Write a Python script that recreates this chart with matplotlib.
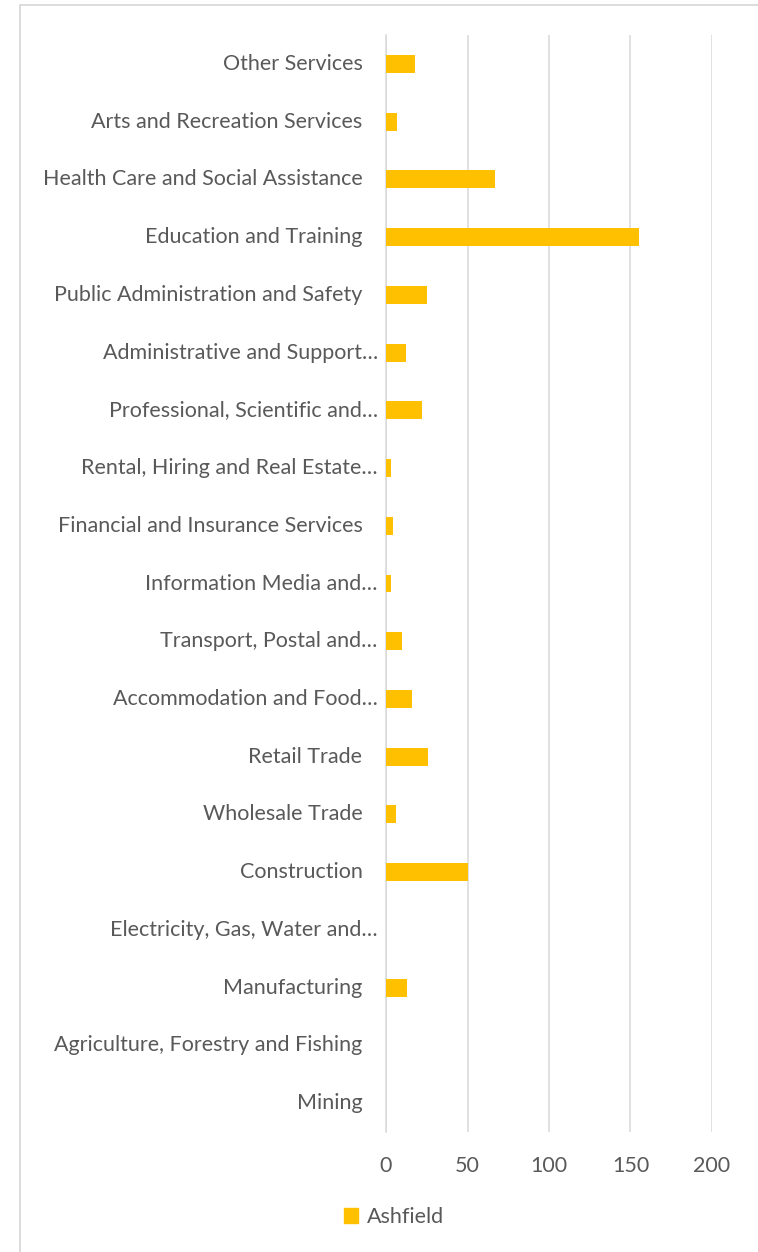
import matplotlib.pyplot as plt
from matplotlib.patches import Rectangle
import matplotlib.transforms as mtransforms

plt.rcParams['font.family'] = ['Lato', 'DejaVu Sans']

# categories listed from top to bottom as in the chart
categories = [
    "Other Services",
    "Arts and Recreation Services",
    "Health Care and Social Assistance",
    "Education and Training",
    "Public Administration and Safety",
    "Administrative and Support\u2026",
    "Professional, Scientific and\u2026",
    "Rental, Hiring and Real Estate\u2026",
    "Financial and Insurance Services",
    "Information Media and\u2026",
    "Transport, Postal and\u2026",
    "Accommodation and Food\u2026",
    "Retail Trade",
    "Wholesale Trade",
    "Construction",
    "Electricity, Gas, Water and\u2026",
    "Manufacturing",
    "Agriculture, Forestry and Fishing",
    "Mining",
]
ashfield = [18, 7, 67, 155, 25, 12, 22, 3, 4, 3, 10, 16, 26, 6, 50, 0, 13, 0, 0]
xticks = [0, 50, 100, 150, 200]

W, H = 758, 1252
fs = 15.5
text_col = '#595959'
grid_col = '#D9D9D9'
bar_col = '#FFC000'

fig = plt.figure(figsize=(W / 100, H / 100), dpi=100)

# chart area border
fig.patches.append(Rectangle((20 / W, -0.01), 1.0, 1 - 5 / H + 0.01,
                             transform=fig.transFigure, fill=False,
                             edgecolor=grid_col, linewidth=1.3))

ax = fig.add_axes([386 / W, 1 - 1132 / H, (712 - 386) / W, (1132 - 35) / H])
ypos = list(range(len(categories)))
ax.barh(ypos, ashfield, height=0.31, color=bar_col, zorder=3)
ax.set_ylim(len(categories) - 0.5, -0.5)
ax.set_xlim(0, 200)
ax.set_xticks(xticks)
ax.set_xticklabels([str(t) for t in xticks])
ax.set_yticks([])
ax.tick_params(axis='x', length=0, pad=17, labelsize=fs, labelcolor=text_col)
ax.grid(axis='x', color=grid_col, linewidth=1.1, zorder=0)
for s in ['top', 'right', 'bottom']:
    ax.spines[s].set_visible(False)
ax.spines['left'].set_color(grid_col)
ax.spines['left'].set_linewidth(1.1)

trans = ax.get_yaxis_transform()
for i, lab in enumerate(categories):
    dx = -6 if lab.endswith('\u2026') else -17
    tr = mtransforms.offset_copy(trans, fig=fig, x=dx, y=0, units='points')
    ax.text(0, i, lab, transform=tr, ha='right', va='center',
            fontsize=fs, color=text_col)

handle = Rectangle((0, 0), 1, 1, color=bar_col)
fig.legend([handle], ['Ashfield'], loc='center', bbox_to_anchor=(394 / W, 1 - 1217 / H),
           frameon=False, fontsize=fs, labelcolor=text_col,
           handlelength=0.65, handleheight=0.65, handletextpad=0.4)

fig.savefig('out.png', dpi=100)
